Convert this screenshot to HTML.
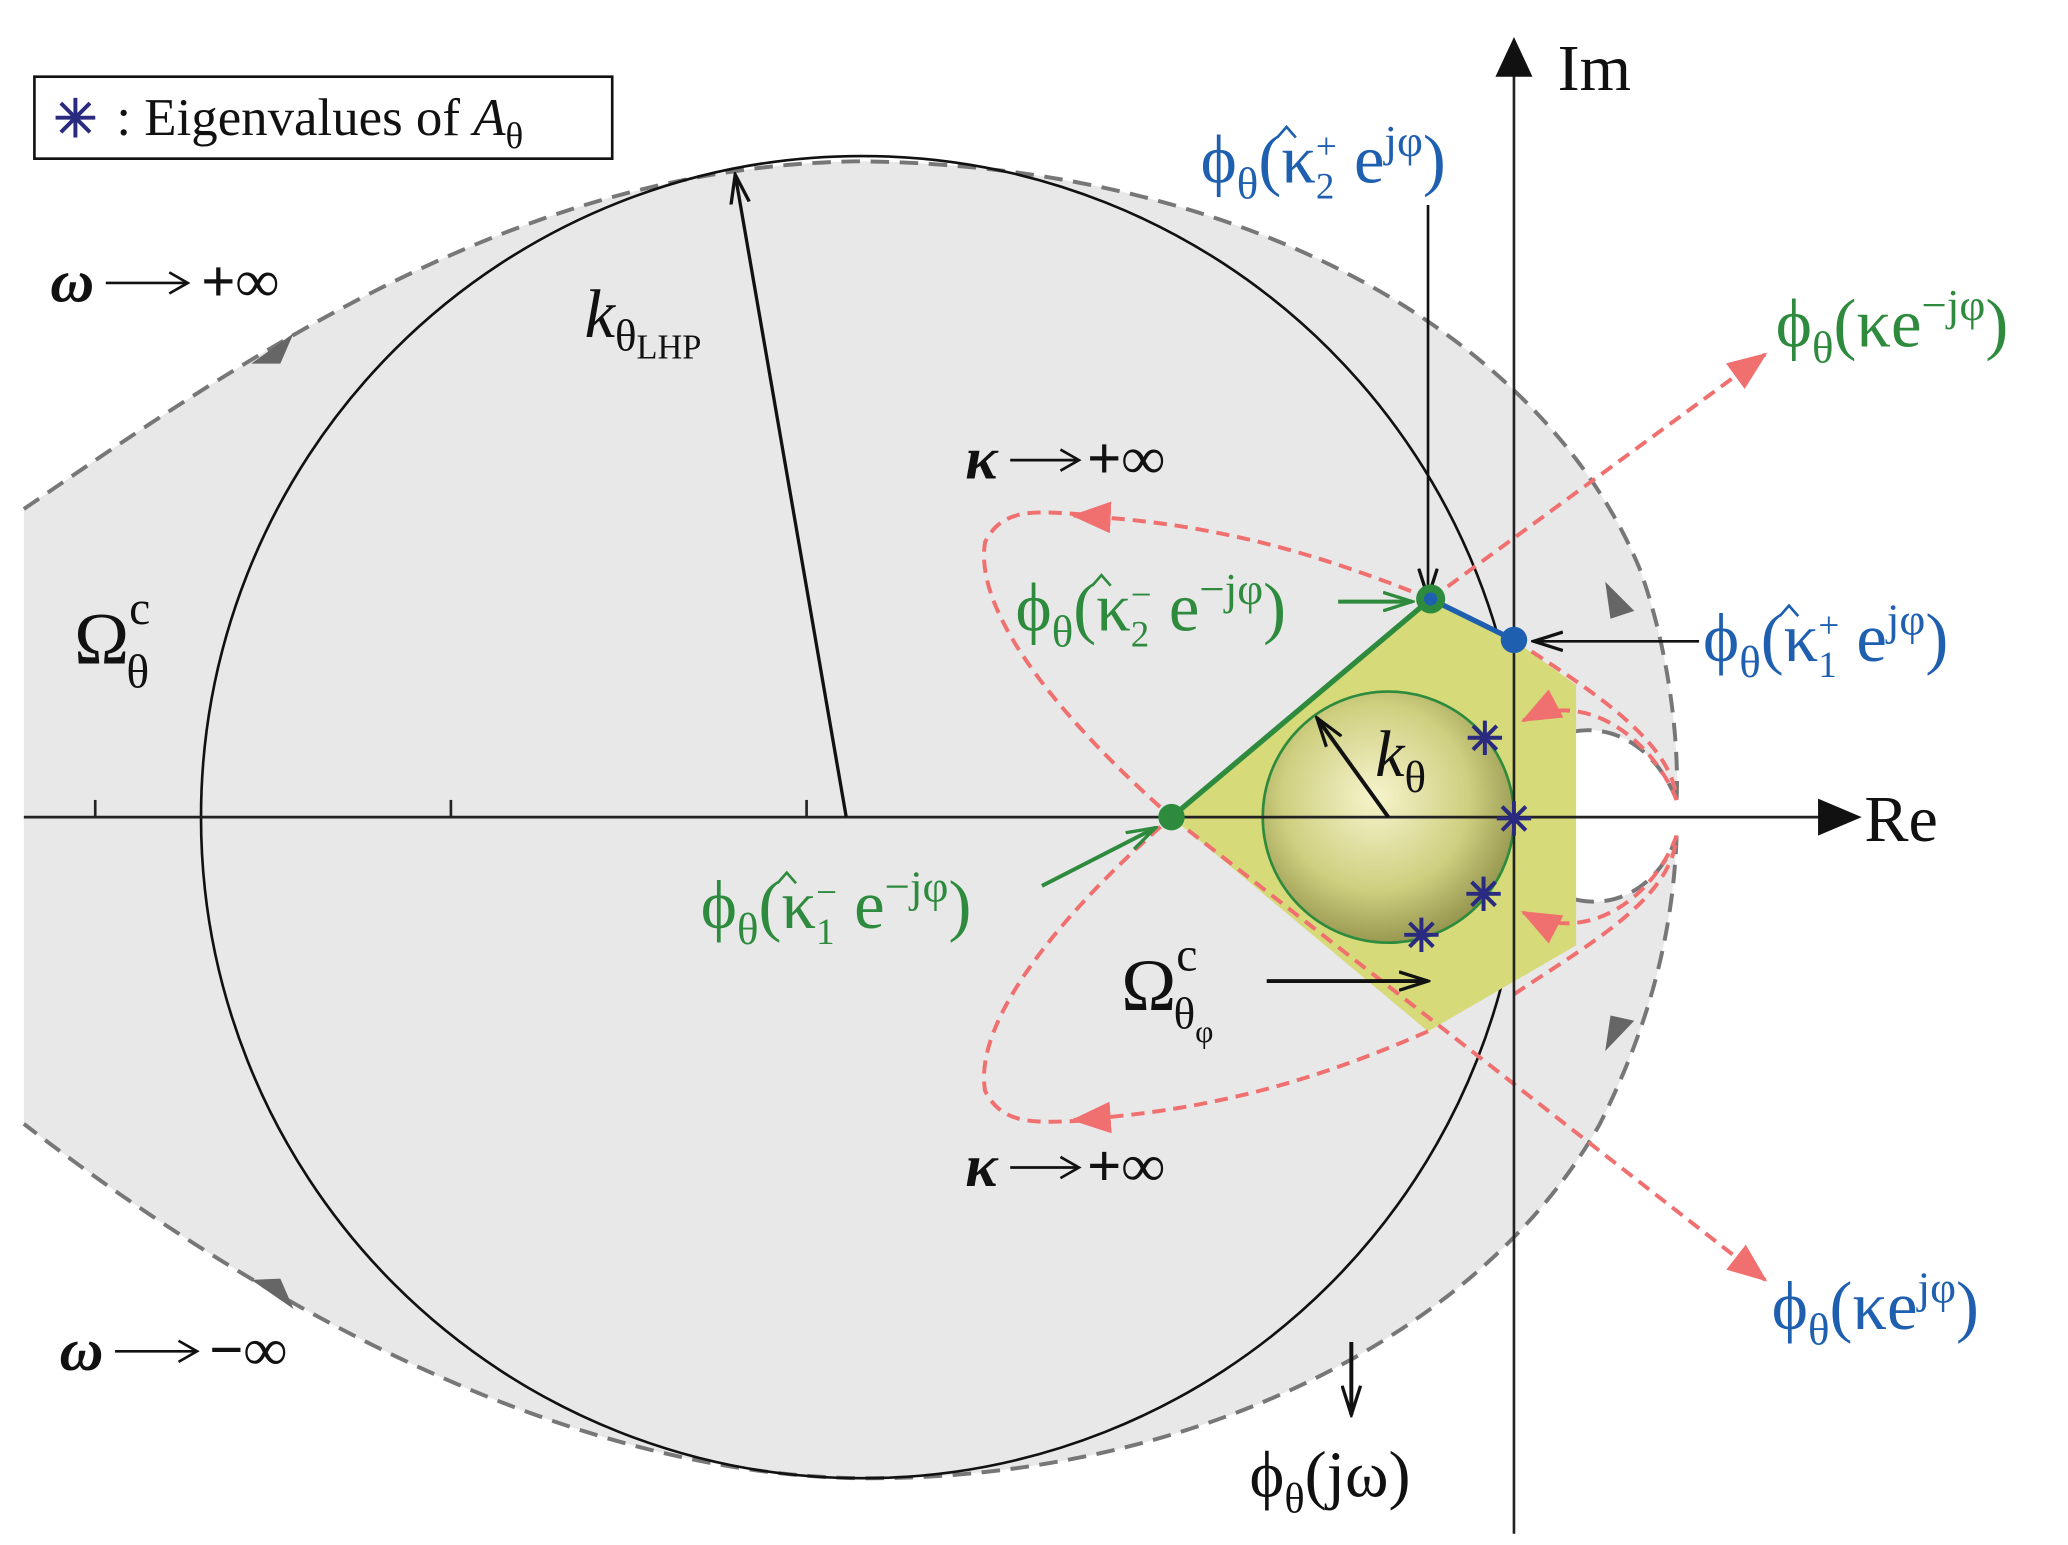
<!DOCTYPE html>
<html><head><meta charset="utf-8"><style>
html,body{margin:0;padding:0;background:#fff}
svg{display:block}
text{font-family:"Liberation Serif",serif}
</style></head><body>
<svg width="2068" height="1545" viewBox="0 0 1564 1168.5" xmlns="http://www.w3.org/2000/svg">
<defs>
<radialGradient id="g" cx="0.45" cy="0.42" r="0.62">
<stop offset="0" stop-color="#f6f4cc"/><stop offset="0.6" stop-color="#cfcf80"/><stop offset="1" stop-color="#8e8e48"/>
</radialGradient>
<marker id="ab" markerWidth="24" markerHeight="16" refX="22" refY="8" orient="auto" markerUnits="userSpaceOnUse"><path d="M0,1 L22,8 L0,15" fill="none" stroke="#111" stroke-width="2.5"/></marker>
<marker id="ag" markerWidth="24" markerHeight="16" refX="22" refY="8" orient="auto" markerUnits="userSpaceOnUse"><path d="M0,1 L22,8 L0,15" fill="none" stroke="#2e8b3e" stroke-width="2.5"/></marker>
<marker id="ar" markerWidth="30" markerHeight="24" refX="28" refY="12" orient="auto" markerUnits="userSpaceOnUse"><path d="M0,0 L30,12 L0,24 Z" fill="#f07070"/></marker>
</defs>
<path d="M0,400 L18,385 C200,260 400,125 650,122 C950,125 1170,260 1240,430 C1262,490 1270,560 1268,605 C1250,560 1210,540 1170,560 C1140,590 1145,660 1190,680 C1230,690 1260,660 1268,632 C1265,720 1240,790 1210,850 C1120,1010 900,1120 650,1118 C430,1115 200,990 18,850 L0,838 Z" fill="#e8e8e8"/>
<rect x="0" y="0" width="18" height="1168" fill="#fff"/>
<path d="M18,385 C200,260 400,125 650,122 C950,125 1170,260 1240,430 C1262,490 1270,560 1268,605 M1268,632 C1265,720 1240,790 1210,850 C1120,1010 900,1120 650,1118 C430,1115 200,990 18,850" fill="none" stroke="#777" stroke-width="3" stroke-dasharray="14,8"/>
<path d="M1268,605 C1250,560 1210,540 1170,560 C1140,590 1145,660 1190,680 C1230,690 1260,660 1268,632" fill="#fff" stroke="#777" stroke-width="3" stroke-dasharray="14,8"/>
<path d="M190,275 L222,252 L212,275Z" fill="#666"/>
<path d="M190,968 L222,990 L212,967Z" fill="#666"/>
<path d="M1214,440 L1236,462 L1218,468Z" fill="#666"/>
<path d="M1214,795 L1236,772 L1218,768Z" fill="#666"/>
<circle cx="652" cy="618" r="500" fill="none" stroke="#111" stroke-width="2"/>
<path d="M886,618 L1082,453 L1145,484 L1192,518 L1192,715 L1080,780 Z" fill="#d6da78"/>
<path d="M886,618 L1082,453" stroke="#2e8b3e" stroke-width="4"/>
<path d="M1082,453 L1145,484" stroke="#1f5fb0" stroke-width="4"/>
<circle cx="1050" cy="618" r="95" fill="url(#g)" stroke="#2e8b3e" stroke-width="2"/>
<g fill="none" stroke="#f07070" stroke-width="3" stroke-dasharray="10,6">
<path d="M1082,453 C1000,420 920,395 812,390" marker-end="url(#ar)"/>
<path d="M835,390 C790,388 760,380 745,410 C735,470 820,560 886,618"/>
<path d="M1080,780 C1000,815 920,840 812,847" marker-end="url(#ar)"/>
<path d="M835,847 C790,848 760,855 745,825 C735,765 820,675 886,618"/>
<path d="M886,618 L1335,968" marker-end="url(#ar)"/>
<path d="M1082,453 L1335,268" marker-end="url(#ar)"/>
<path d="M1145,484 C1200,520 1265,560 1268,605 C1250,560 1200,520 1152,545" marker-end="url(#ar)"/>
<path d="M1145,752 C1200,715 1265,680 1268,632 C1250,680 1200,715 1152,690" marker-end="url(#ar)"/>
</g>
<line x1="18" y1="618" x2="1385" y2="618" stroke="#222" stroke-width="2"/>
<path d="M1375,604 L1408,618 L1375,632Z" fill="#111"/>
<line x1="1145" y1="1160" x2="1145" y2="55" stroke="#222" stroke-width="2"/>
<path d="M1131,58 L1145,28 L1159,58Z" fill="#111"/>
<g stroke="#222" stroke-width="2"><line x1="72" y1="618" x2="72" y2="605"/><line x1="341" y1="618" x2="341" y2="605"/><line x1="610" y1="618" x2="610" y2="605"/></g>
<line x1="640" y1="618" x2="556" y2="132" stroke="#111" stroke-width="2.5" marker-end="url(#ab)"/>
<line x1="1050" y1="618" x2="996" y2="543" stroke="#111" stroke-width="3" marker-end="url(#ab)"/>
<line x1="1080" y1="155" x2="1080" y2="452" stroke="#111" stroke-width="2" marker-end="url(#ab)"/>
<line x1="1285" y1="485" x2="1160" y2="485" stroke="#111" stroke-width="2" marker-end="url(#ab)"/>
<line x1="1012" y1="455" x2="1068" y2="455" stroke="#2e8b3e" stroke-width="3" marker-end="url(#ag)"/>
<line x1="788" y1="670" x2="874" y2="626" stroke="#2e8b3e" stroke-width="3" marker-end="url(#ag)"/>
<line x1="958" y1="742" x2="1080" y2="742" stroke="#111" stroke-width="3" marker-end="url(#ab)"/>
<line x1="1022" y1="1015" x2="1022" y2="1070" stroke="#111" stroke-width="3" marker-end="url(#ab)"/>
<circle cx="886" cy="618" r="10" fill="#2e8b3e"/>
<circle cx="1082" cy="453" r="11" fill="#2e8b3e"/><circle cx="1082" cy="453" r="5" fill="#1f5fb0"/>
<circle cx="1145" cy="484" r="10" fill="#1f5fb0"/>
<g stroke="#2a2a80" stroke-width="3">
<path d="M1110,558 h26 M1123,545 v26 M1114,549 l18,18 M1132,549 l-18,18"/>
<path d="M1132,619 h26 M1145,606 v26 M1136,610 l18,18 M1154,610 l-18,18"/>
<path d="M1109,676 h26 M1122,663 v26 M1113,667 l18,18 M1131,667 l-18,18"/>
<path d="M1062,707 h26 M1075,694 v26 M1066,698 l18,18 M1084,698 l-18,18"/>
<path d="M42,89 h30 M57,74 v30 M46,78 l22,22 M68,78 l-22,22"/>
</g>
<rect x="26" y="58" width="437" height="62" fill="none" stroke="#111" stroke-width="2"/>
<text x="88" y="102" font-size="40" fill="#111">: Eigenvalues of <tspan font-style="italic">A</tspan><tspan font-size="28" dy="10">θ</tspan></text>
<g font-size="46" fill="#111" font-weight="bold">
<text x="38" y="228" font-style="italic">ω</text><text x="152" y="228">+∞</text>
<text x="45" y="1036" font-style="italic">ω</text><text x="158" y="1036">−∞</text>
<text x="730" y="362" font-style="italic">κ</text><text x="822" y="362">+∞</text>
<text x="730" y="897" font-style="italic">κ</text><text x="822" y="897">+∞</text>
</g>
<g stroke="#111" stroke-width="2" fill="none">
<line x1="80" y1="214" x2="140" y2="214"/><path d="M128,206 L142,214 L128,222"/>
<line x1="87" y1="1022" x2="147" y2="1022"/><path d="M135,1014 L149,1022 L135,1030"/>
<line x1="764" y1="348" x2="814" y2="348"/><path d="M802,340 L816,348 L802,356"/>
<line x1="764" y1="883" x2="814" y2="883"/><path d="M802,875 L816,883 L802,891"/>
</g>
<g font-size="50" fill="#111">
<text x="1178" y="68">Im</text>
<text x="1410" y="636">Re</text>
<text x="442" y="255" font-style="italic" font-size="52">k<tspan font-size="34" font-style="normal" dy="10">θ</tspan><tspan font-size="26" font-style="normal" dy="6">LHP</tspan></text>
<text x="1040" y="587" font-style="italic" font-size="50">k<tspan font-size="34" font-style="normal" dy="12">θ</tspan></text>
<text x="56" y="502" font-size="56">Ω<tspan font-size="36" dy="-30">c</tspan><tspan font-size="36" dx="-18" dy="48">θ</tspan></text>
<text x="848" y="764" font-size="56">Ω<tspan font-size="36" dy="-30">c</tspan><tspan font-size="34" dx="-18" dy="44">θ</tspan><tspan font-size="24" dy="10">φ</tspan></text>
<text x="945" y="1132">ϕ<tspan font-size="32" dy="12">θ</tspan><tspan dy="-12">(jω)</tspan></text>
</g>
<g font-size="52" fill="#1f5fb0">
<text x="908" y="138">ϕ<tspan font-size="34" dy="12">θ</tspan><tspan dy="-12">(κ</tspan><tspan font-size="28" dy="12">2</tspan><tspan font-size="28" dx="-14" dy="-30">+</tspan><tspan dy="18"> e</tspan><tspan font-size="34" dy="-20">jφ</tspan><tspan dy="20">)</tspan></text>
<text x="1288" y="500">ϕ<tspan font-size="34" dy="12">θ</tspan><tspan dy="-12">(κ</tspan><tspan font-size="28" dy="12">1</tspan><tspan font-size="28" dx="-14" dy="-30">+</tspan><tspan dy="18"> e</tspan><tspan font-size="34" dy="-20">jφ</tspan><tspan dy="20">)</tspan></text>
<text x="1340" y="1005">ϕ<tspan font-size="34" dy="12">θ</tspan><tspan dy="-12">(κe</tspan><tspan font-size="34" dy="-20">jφ</tspan><tspan dy="20">)</tspan></text>
</g>
<g font-size="52" fill="#2e8b3e">
<text x="1343" y="262">ϕ<tspan font-size="34" dy="12">θ</tspan><tspan dy="-12">(κe</tspan><tspan font-size="34" dy="-20">−jφ</tspan><tspan dy="20">)</tspan></text>
<text x="768" y="477">ϕ<tspan font-size="34" dy="12">θ</tspan><tspan dy="-12">(κ</tspan><tspan font-size="28" dy="12">2</tspan><tspan font-size="28" dx="-14" dy="-30">−</tspan><tspan dy="18"> e</tspan><tspan font-size="34" dy="-20">−jφ</tspan><tspan dy="20">)</tspan></text>
<text x="530" y="702">ϕ<tspan font-size="34" dy="12">θ</tspan><tspan dy="-12">(κ</tspan><tspan font-size="28" dy="12">1</tspan><tspan font-size="28" dx="-14" dy="-30">−</tspan><tspan dy="18"> e</tspan><tspan font-size="34" dy="-20">−jφ</tspan><tspan dy="20">)</tspan></text>
</g>
<g fill="none" stroke-width="2">
<path d="M966,104 l7,-8 l7,8" stroke="#1f5fb0"/>
<path d="M1346,466 l7,-8 l7,8" stroke="#1f5fb0"/>
<path d="M826,443 l7,-8 l7,8" stroke="#2e8b3e"/>
<path d="M588,668 l7,-8 l7,8" stroke="#2e8b3e"/>
</g>
</svg>
</body></html>
